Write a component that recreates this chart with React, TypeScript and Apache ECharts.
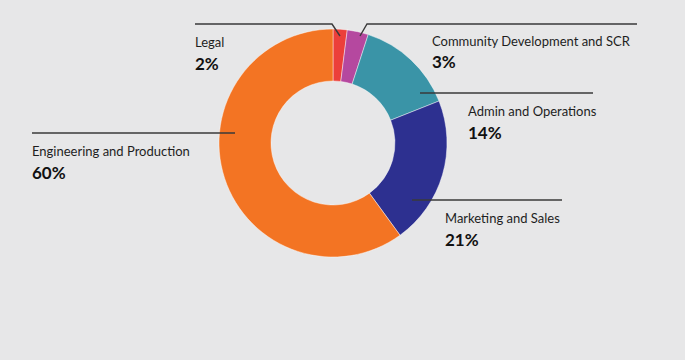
import React, { useEffect, useRef } from "react";
import * as echarts from "echarts";

const categories = [
  "Legal",
  "Community Development and SCR",
  "Admin and Operations",
  "Marketing and Sales",
  "Engineering and Production",
];
const values = [2, 3, 14, 21, 60];
const colors = ["#ec3f3a", "#b5489f", "#3a94a7", "#2d3090", "#f37423"];

// label positions (top-left of the label block) and leader line points
const labelLayouts = [
  { x: 195, y: 32, line: [[340, 36], [332, 24], [195, 24]] },
  { x: 432, y: 32, line: [[360, 36], [367, 24], [637, 24]] },
  { x: 468, y: 101, line: [[420, 93], [500, 93], [593, 93]] },
  { x: 445, y: 208, line: [[412, 200], [490, 200], [562, 200]] },
  { x: 32, y: 141, line: [[235, 133], [130, 133], [32, 133]] },
];

export default function App() {
  const ref = useRef<HTMLDivElement>(null);
  useEffect(() => {
    if (!ref.current) return;
    const chart = echarts.init(ref.current, undefined, { renderer: "svg" });
    chart.setOption({
      animation: false,
      backgroundColor: "#e7e7e8",
      graphic: labelLayouts.map((l) => ({
        type: "polyline",
        z: 100,
        silent: true,
        shape: { points: l.line },
        style: { stroke: "#3a3a3a", lineWidth: 1.4, fill: null },
      })),
      series: [
        {
          type: "pie",
          center: [333, 143],
          radius: [62, 114],
          startAngle: 90,
          clockwise: true,
          avoidLabelOverlap: false,
          data: categories.map((c, i) => ({
            name: c,
            value: values[i],
            itemStyle: { color: colors[i] },
          })),
          itemStyle: { borderColor: "rgba(255,255,255,0.55)", borderWidth: 0.8 },
          label: {
            show: true,
            position: "outside",
            formatter: (p: any) =>
              p.dataIndex === 1
                ? `{n2|${p.name}}\n{p|${p.value}%}`
                : `{n|${p.name}}\n{p|${p.value}%}`,
            rich: {
              n: { fontFamily: "Lato", fontSize: 13, lineHeight: 20, color: "#1e1e1e" },
              n2: { fontFamily: "Lato", fontSize: 13, lineHeight: 18, color: "#1e1e1e" },
              p: {
                fontFamily: "Lato",
                fontSize: 17,
                fontWeight: "bold",
                lineHeight: 22,
                color: "#111",
              },
            },
          },
          labelLine: { show: false },
          labelLayout: (params: any) => {
            const l = labelLayouts[params.dataIndex];
            return {
              x: l.x,
              y: l.y,
              align: "left",
              verticalAlign: "top",
            };
          },
          emphasis: { disabled: true },
        },
      ],
    });
    return () => chart.dispose();
  }, []);
  return (
    <div
      ref={ref}
      style={{ position: "fixed", left: 0, top: 0, width: 685, height: 360 }}
    />
  );
}
